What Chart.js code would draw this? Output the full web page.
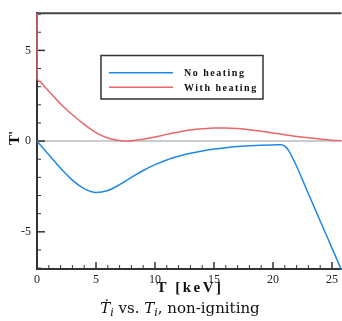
<!DOCTYPE html>
<html>
<head>
<meta charset="utf-8">
<script src="https://cdn.jsdelivr.net/npm/chart.js@4/dist/chart.umd.min.js"></script>
<style>
  html, body { margin: 0; padding: 0; background: #fff; }
  #wrap { width: 342px; height: 321px; }
</style>
</head>
<body>
<div id="wrap"><canvas id="chart"></canvas></div>
<script>
// Data
const noHeatT = [0, 1, 2, 3, 4, 5, 6, 7, 8, 9, 10, 11, 12, 13, 14, 15, 16, 17, 18, 19, 20, 20.7, 21.0, 21.3, 21.87, 23, 24, 25, 25.8];
const noHeating = [0, -0.75, -1.5, -2.15, -2.62, -2.83, -2.72, -2.4, -2.0, -1.62, -1.3, -1.04, -0.84, -0.67, -0.54, -0.44, -0.36, -0.3, -0.26, -0.23, -0.21, -0.2, -0.28, -0.5, -1.21, -2.9, -4.4, -5.9, -7.1];

const withHeatT = [0, 0.01, 0.25, 0.5, 1, 2, 3, 4, 5, 6, 7, 7.5, 8, 9, 10, 11, 12, 13, 14, 15, 16, 17, 18, 19, 20, 21, 22, 23, 24, 25, 25.8];
const withHeating = [8, 3.45, 3.28, 3.1, 2.75, 2.05, 1.45, 0.92, 0.47, 0.17, 0.03, 0.0, 0.02, 0.1, 0.23, 0.37, 0.5, 0.61, 0.68, 0.72, 0.72, 0.69, 0.63, 0.54, 0.45, 0.35, 0.26, 0.18, 0.11, 0.05, 0.02];

const seriesLabels = ['No heating', 'With heating'];
const seriesColors = ['#1e88e5', '#e8666a'];

const xMin = 0, xMax = 25.8;
const yMin = -7.05, yMax = 7.05;

const serif = "'Liberation Serif', 'DejaVu Serif', serif";
const capSerif = "'DejaVu Serif', 'Liberation Serif', serif";
const axisColor = '#333';

// Inside ticks, top frame line, legend box and texts
const decor = {
    id: 'decor',
    beforeDatasetsDraw(chart) {
        const { ctx, chartArea: a, scales: { x, y } } = chart;
        ctx.save();
        ctx.strokeStyle = axisColor;
        for (let v = Math.ceil(xMin); v <= xMax; v++) {
            const px = x.getPixelForValue(v);
            const major = v % 5 === 0;
            ctx.lineWidth = major ? 1.5 : 1;
            ctx.beginPath();
            ctx.moveTo(px, a.bottom);
            ctx.lineTo(px, a.bottom - (major ? 7 : 4));
            ctx.stroke();
        }
        for (let v = Math.ceil(yMin); v <= yMax; v++) {
            const py = y.getPixelForValue(v);
            const major = v % 5 === 0;
            ctx.lineWidth = major ? 1.5 : 1;
            ctx.beginPath();
            ctx.moveTo(a.left, py);
            ctx.lineTo(a.left + (major ? 8 : 4), py);
            ctx.stroke();
        }
        // top frame
        ctx.strokeStyle = '#444';
        ctx.lineWidth = 2;
        ctx.beginPath();
        ctx.moveTo(a.left, a.top);
        ctx.lineTo(a.right, a.top);
        ctx.stroke();
        ctx.restore();
    },
    afterDraw(chart) {
        const { ctx } = chart;
        ctx.save();

        // legend
        ctx.fillStyle = '#fff';
        ctx.fillRect(101, 55.5, 162, 43.5);
        ctx.strokeStyle = '#333';
        ctx.lineWidth = 1.5;
        ctx.strokeRect(101, 55.5, 162, 43.5);
        const rows = [72.7, 87.3];
        chart.data.datasets.forEach((ds, i) => {
            ctx.strokeStyle = ds.borderColor;
            ctx.lineWidth = 1.5;
            ctx.beginPath();
            ctx.moveTo(109, rows[i]);
            ctx.lineTo(173, rows[i]);
            ctx.stroke();
            ctx.fillStyle = '#111';
            ctx.font = 'bold 10px ' + serif;
            ctx.letterSpacing = '1.5px';
            ctx.textAlign = 'left';
            ctx.textBaseline = 'alphabetic';
            ctx.fillText(ds.label, 184, rows[i] + 3.5);
        });

        // y axis title
        ctx.letterSpacing = '0px';
        ctx.fillStyle = '#111';
        ctx.font = 'bold 15px ' + serif;
        ctx.translate(15, 138);
        ctx.rotate(-Math.PI / 2);
        ctx.textAlign = 'center';
        ctx.textBaseline = 'middle';
        ctx.fillText("T'", 0, 0);
        ctx.setTransform(1, 0, 0, 1, 0, 0);

        // x axis title
        ctx.font = 'bold 15px ' + serif;
        ctx.letterSpacing = '2.5px';
        ctx.textAlign = 'center';
        ctx.textBaseline = 'alphabetic';
        ctx.fillText('T [keV]', 190, 292);

        // caption
        ctx.textAlign = 'left';
        ctx.letterSpacing = '0px';
        const parts = [
            ['Ṫ', 'italic 15px', 0],
            ['i', 'italic 11px', 3],
            [' vs. ', '15px', 0],
            ['T', 'italic 15px', 0],
            ['i', 'italic 11px', 3],
            [', non-igniting', '15px', 0]
        ];
        let total = 0;
        parts.forEach(p => { ctx.font = p[1] + ' ' + capSerif; total += ctx.measureText(p[0]).width; });
        let cx = 180 - total / 2;
        parts.forEach(p => {
            ctx.font = p[1] + ' ' + capSerif;
            ctx.fillText(p[0], cx, 313 + p[2]);
            cx += ctx.measureText(p[0]).width;
        });
        ctx.restore();
    }
};

const toPoints = (xs, ys) => xs.map((t, i) => ({ x: t, y: ys[i] }));

new Chart(document.getElementById('chart'), {
    type: 'line',
    data: {
        datasets: [
            {
                label: seriesLabels[0],
                data: toPoints(noHeatT, noHeating),
                borderColor: seriesColors[0],
                borderWidth: 1.5,
                pointRadius: 0,
                cubicInterpolationMode: 'monotone',
                fill: false,
                clip: { left: 2, top: 0, right: 2, bottom: 1 }
            },
            {
                label: seriesLabels[1],
                data: toPoints(withHeatT, withHeating),
                borderColor: seriesColors[1],
                borderWidth: 1.5,
                pointRadius: 0,
                cubicInterpolationMode: 'monotone',
                fill: false,
                clip: { left: 2, top: 0, right: 2, bottom: 1 }
            }
        ]
    },
    options: {
        responsive: true,
        maintainAspectRatio: false,
        animation: false,
        layout: { padding: { top: 7, right: 0, left: 0, bottom: 0 } },
        plugins: { legend: { display: false }, tooltip: { enabled: false } },
        scales: {
            x: {
                type: 'linear',
                min: xMin,
                max: xMax,
                ticks: {
                    stepSize: 5,
                    includeBounds: false,
                    maxRotation: 0,
                    padding: 4,
                    color: '#222',
                    font: { family: serif, size: 12 }
                },
                grid: { display: false, drawTicks: false },
                border: { display: true, color: axisColor, width: 2 },
                afterFit(scale) { scale.height = 52; }
            },
            y: {
                min: yMin,
                max: yMax,
                ticks: {
                    stepSize: 5,
                    includeBounds: false,
                    padding: 6,
                    color: '#222',
                    font: { family: serif, size: 12 }
                },
                grid: {
                    drawTicks: false,
                    lineWidth: 2,
                    color: c => (c.tick && c.tick.value === 0 ? '#cccccc' : 'rgba(0,0,0,0)')
                },
                border: { display: true, color: axisColor, width: 2 },
                afterFit(scale) { scale.width = 37; }
            }
        }
    },
    plugins: [decor]
});
</script>
</body>
</html>
